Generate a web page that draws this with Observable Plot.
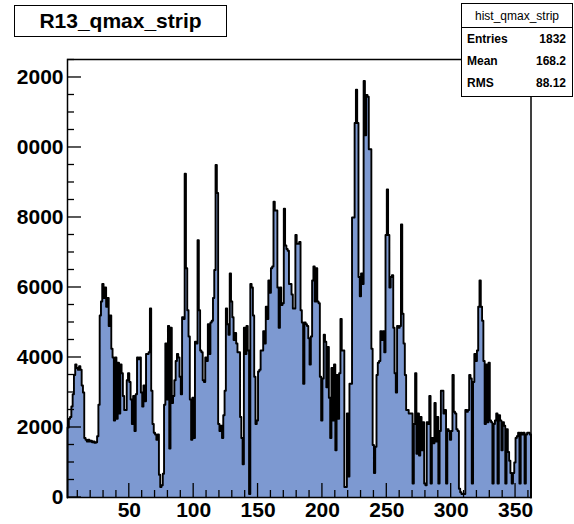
<!DOCTYPE html>
<html>
<head>
<meta charset="utf-8">
<script src="https://cdn.jsdelivr.net/npm/d3@7"></script>
<script src="https://cdn.jsdelivr.net/npm/@observablehq/plot@0.6"></script>
<style>
  html, body { margin: 0; padding: 0; background: #fff; }
  #canvas { position: relative; width: 574px; height: 524px; overflow: hidden;
            font-family: "Liberation Sans", Arial, Helvetica, sans-serif; }
  #canvas svg { position: absolute; left: 0; top: 0; }
  .title-box { position: absolute; left: 14px; top: 5px; width: 211px; height: 30px;
               border: 1.5px solid #000; background: #fff; text-align: center;
               font-weight: bold; font-size: 21px; line-height: 30px; }
  .stats { position: absolute; left: 461px; top: 3px; width: 110px; height: 92px;
           border: 1px solid #000; background: #fff; font-size: 12px; }
  .stats .head { height: 23px; line-height: 24px; text-align: center; border-bottom: 1px solid #000; }
  .stats .row { display: flex; justify-content: space-between; height: 22px; line-height: 22px;
                padding: 0 6px 0 5px; font-weight: bold; }
</style>
</head>
<body>
<div id="canvas"></div>
<script>
// Histogram of the strip with maximum charge, one bin per strip
const histName = "hist_qmax_strip";
const histTitle = "R13_qmax_strip";
const firstStrip = 2;   // lower edge of the first bin
const lastStrip = 362;  // upper edge of the last bin
const counts = [
  2000, 2250, 2300, 2600, 2950, 3500, 3800, 3700, 3650, 3750,
  3650, 3200, 3000, 1700, 1650, 1600, 1650, 1600, 1620, 1580,
  1600, 1560, 1580, 1750, 2650, 5200, 5600, 6100, 5700, 6000,
  5450, 5700, 4900, 5200, 4250, 4000, 2200, 4000, 2250, 3850,
  2400, 3800, 3550, 2900, 2500, 2500, 3350, 3550, 3300, 2800,
  2100, 2900, 1900, 2950, 4000, 3950, 4000, 3000, 2600, 3200,
  2750, 4100, 4100, 4150, 5400, 3050, 2100, 1850, 1800, 1650,
  1800, 650, 300, 350, 680, 2650, 4400, 2800, 4900, 1400,
  4850, 2700, 2900, 3350, 3900, 4100, 4000, 3450, 2950, 5150,
  5100, 9250, 6550, 5350, 4600, 2800, 1650, 2850, 1700, 4450,
  4400, 7350, 5350, 4200, 4150, 3350, 3300, 4000, 3900, 4950,
  4100, 5000, 5050, 5700, 6500, 9500, 8700, 2100, 1900, 2050,
  1700, 2350, 3050, 5400, 4950, 4650, 6400, 5600, 5150, 4500,
  4700, 4400, 4150, 4150, 2300, 1700, 950, 4850, 4100, 4900,
  4200, 100, 6100, 6000, 5200, 3450, 2100, 2200, 3600, 3650,
  4200, 4200, 4750, 4400, 5450, 5100, 6200, 5850, 6550, 6600,
  8450, 8200, 8200, 6000, 4850, 6000, 5500, 5550, 8250, 7200,
  7100, 7050, 6100, 6100, 5800, 5400, 5400, 7500, 7250, 7250,
  7300, 5350, 5000, 3250, 5000, 4950, 4900, 4550, 3800, 4600,
  6200, 6600, 5600, 6550, 5600, 5550, 3450, 2200, 3400, 4650,
  4450, 3150, 4300, 2850, 1700, 3700, 2200, 3800, 1350, 3500,
  2250, 3550, 5100, 4200, 4200, 300, 300, 2400, 600, 3250,
  3250, 8000, 8000, 10700, 11650, 10700, 6300, 5750, 6400, 6100,
  11900, 10350, 11500, 11450, 9950, 9950, 4250, 1500, 700, 1450,
  3500, 3850, 3900, 4750, 4500, 4750, 4150, 7500, 8800, 7500,
  6000, 6300, 6350, 4850, 3550, 3000, 4900, 4850, 4900, 7800,
  5250, 4400, 3500, 2500, 2500, 2400, 2400, 2400, 400, 2100,
  3550, 1250, 2400, 1200, 2300, 1350, 2150, 400, 350, 2150,
  2100, 2900, 400, 1700, 1550, 2700, 1600, 2300, 400, 1900,
  3050, 3050, 2400, 2500, 400, 1950, 1900, 1650, 1900, 3500,
  2450, 2400, 1950, 1900, 250, 150, 100, 100, 100, 2500,
  2450, 2500, 3500, 3400, 400, 3300, 4100, 3900, 4200, 5450,
  6200, 5450, 5050, 3900, 2100, 3800, 2150, 3850, 2200, 2150,
  400, 2100, 2200, 2400, 400, 2350, 2200, 1350, 2150, 2050,
  400, 1950, 1300, 1050, 700, 400, 700, 1000, 1700, 1750,
  1850, 400, 1850, 1800, 1850, 400, 1800, 1850, 1850, 1800
];
const yMax = 12514;

// Axis ticks and their printed labels
const yMajorTicks = [0, 2000, 4000, 6000, 8000, 10000, 12000];
const yTickLabels = ["0", "2000", "4000", "6000", "8000", "0000", "2000"];
const yMinorStep = 500;
const xMajorTicks = [50, 100, 150, 200, 250, 300, 350];
const xTickLabels = ["50", "100", "150", "200", "250", "300", "350"];
const xMinorStep = 10;

// Statistics box entries
const statNames = ["Entries", "Mean", "RMS"];
const statValues = ["1832", "168.2", "88.12"];

// Step outline: one point per bin lower edge, closed at both ends on the baseline
const steps = counts.map((c, i) => ({x: firstStrip + i, y: c}));
const outline = [{x: firstStrip, y: 0}, ...steps,
  {x: lastStrip, y: counts[counts.length - 1]}, {x: lastStrip, y: 0}];
const filled = [...steps, {x: lastStrip, y: counts[counts.length - 1]}];

const fillColor = "#7d99d1";
const labelFont = {fontSize: 21, fontWeight: "bold", fontFamily: "Liberation Sans, Arial, sans-serif"};

// Inward ticks drawn on top of the histogram, ROOT style
function axisTicks(index, {x, y}) {
  const g = d3.create("svg:g").attr("stroke", "#000").attr("stroke-width", 1.3).attr("fill", "none");
  const x0 = x(firstStrip), y0 = y(0);
  for (let v = 0; v <= yMax; v += yMinorStep) {
    const len = yMajorTicks.includes(v) ? 14 : 7;
    g.append("line").attr("x1", x0).attr("x2", x0 + len).attr("y1", y(v)).attr("y2", y(v));
  }
  for (let v = xMinorStep; v < lastStrip; v += xMinorStep) {
    const len = xMajorTicks.includes(v) ? 14 : 7;
    g.append("line").attr("x1", x(v)).attr("x2", x(v)).attr("y1", y0).attr("y2", y0 - len);
  }
  return g.node();
}

const chart = Plot.plot({
  width: 574,
  height: 524,
  marginLeft: 67,
  marginRight: 43.5,
  marginTop: 59,
  marginBottom: 27,
  x: {domain: [firstStrip, lastStrip], axis: null},
  y: {domain: [0, yMax], axis: null},
  style: {background: "transparent", overflow: "visible"},
  marks: [
    Plot.areaY(filled, {x: "x", y: "y", curve: "step-after", fill: fillColor}),
    Plot.line(outline, {x: "x", y: "y", curve: "step-after", stroke: "#000", strokeWidth: 1.9}),
    axisTicks,
    Plot.frame({stroke: "#000", strokeWidth: 1.5}),
    Plot.text(yMajorTicks, {x: firstStrip, y: d => d, text: (d, i) => yTickLabels[i],
      textAnchor: "end", dx: -4, ...labelFont}),
    Plot.text(xMajorTicks, {x: d => d, y: 0, text: (d, i) => xTickLabels[i],
      lineAnchor: "top", dy: 5, ...labelFont})
  ]
});

const canvas = document.getElementById("canvas");
canvas.appendChild(chart);

const titleBox = document.createElement("div");
titleBox.className = "title-box";
titleBox.textContent = histTitle;
canvas.appendChild(titleBox);

const stats = document.createElement("div");
stats.className = "stats";
const head = document.createElement("div");
head.className = "head";
head.textContent = histName;
stats.appendChild(head);
statNames.forEach((name, i) => {
  const row = document.createElement("div");
  row.className = "row";
  const a = document.createElement("span"); a.textContent = name;
  const b = document.createElement("span"); b.textContent = statValues[i];
  row.append(a, b);
  stats.appendChild(row);
});
canvas.appendChild(stats);
</script>
</body>
</html>
